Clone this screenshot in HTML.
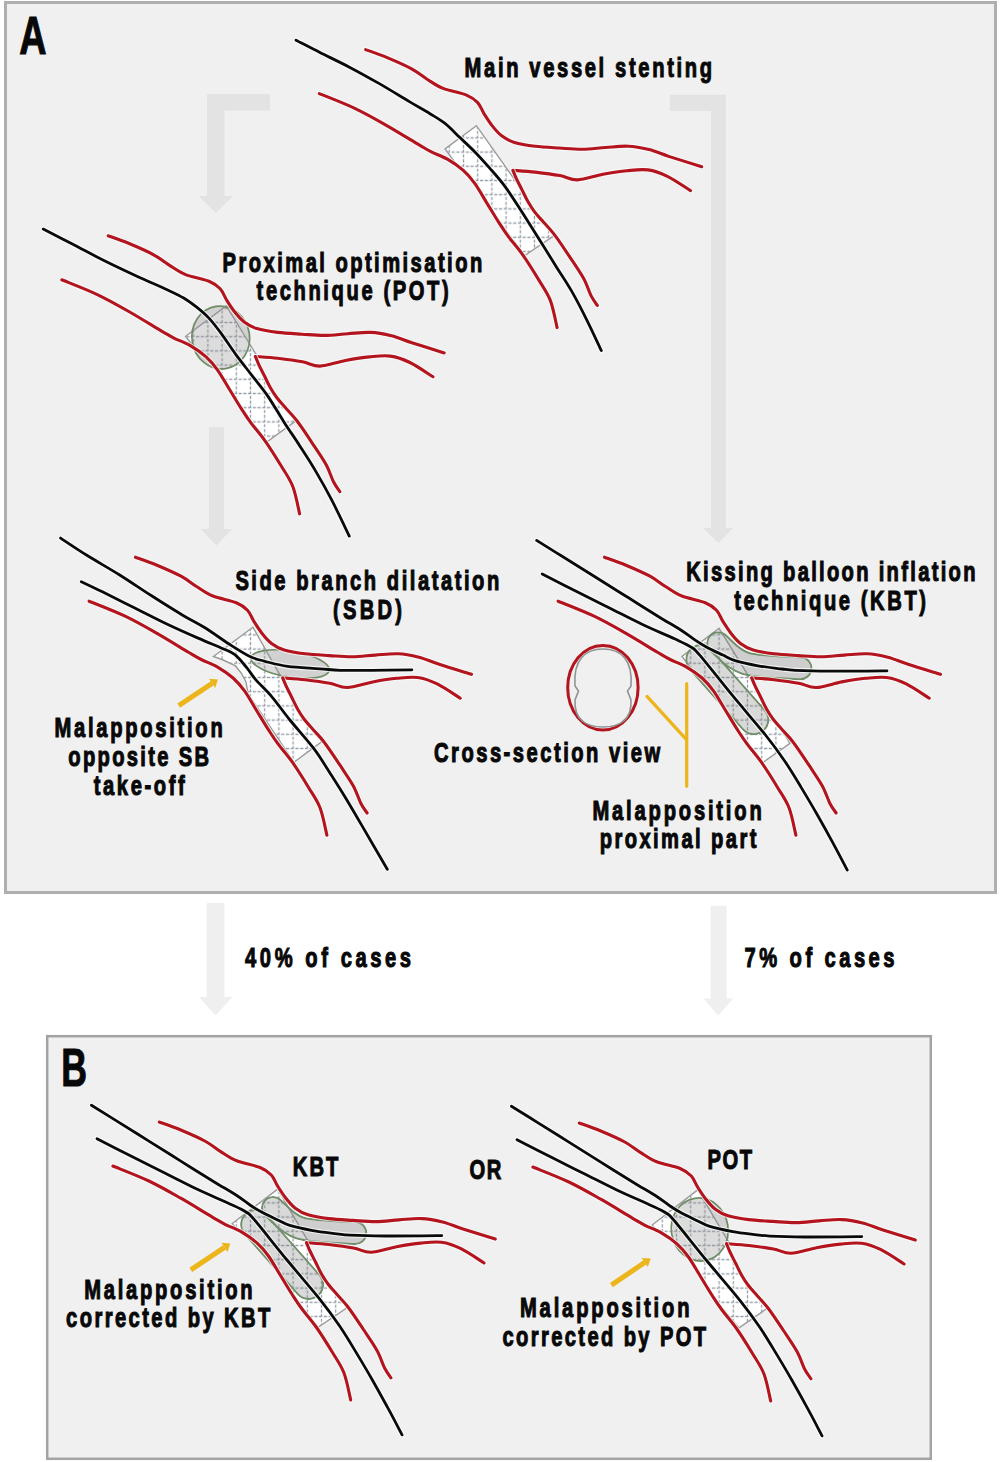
<!DOCTYPE html>
<html><head><meta charset="utf-8"><style>
html,body{margin:0;padding:0;background:#fff;}
svg{display:block;}
text{font-family:"Liberation Sans",sans-serif;font-weight:bold;fill:#080808;stroke:#080808;stroke-width:1.1px;}
.r{fill:none;stroke:#b3141d;stroke-width:3.1;stroke-linecap:round;stroke-linejoin:round;}
.k{fill:none;stroke:#0a0a0a;stroke-width:2.8;stroke-linecap:round;stroke-linejoin:round;}
.h{fill:none;stroke:rgba(252,255,255,0.75);stroke-width:5;stroke-linecap:round;stroke-linejoin:round;}
.so{fill:none;stroke:#9a9a9a;stroke-width:1.4;}
.bal{fill:rgba(140,140,140,0.30);stroke:#6f8c64;stroke-width:1.7;}
</style></head><body>
<svg width="1002" height="1462" viewBox="0 0 1002 1462">
<defs>
<mask id="bm0" maskUnits="userSpaceOnUse" x="0" y="0" width="1002" height="1462"><path d="M700.8 659.7 L753.8 719.7" fill="none" stroke="#fff" stroke-width="31.0" stroke-linecap="round" stroke-linejoin="round"/><path d="M700.8 659.7 L753.8 719.7" fill="none" stroke="#000" stroke-width="27.0" stroke-linecap="round" stroke-linejoin="round"/></mask>
<mask id="bm1" maskUnits="userSpaceOnUse" x="0" y="0" width="1002" height="1462"><path d="M718.2 643.2 C722.7 646.5 731.5 659.0 745.2 663.2 C758.9 667.4 791.3 667.4 800.5 668.2" fill="none" stroke="#fff" stroke-width="24.0" stroke-linecap="round" stroke-linejoin="round"/><path d="M718.2 643.2 C722.7 646.5 731.5 659.0 745.2 663.2 C758.9 667.4 791.3 667.4 800.5 668.2" fill="none" stroke="#000" stroke-width="20.0" stroke-linecap="round" stroke-linejoin="round"/></mask>
<mask id="bm2" maskUnits="userSpaceOnUse" x="0" y="0" width="1002" height="1462"><path d="M255.6 1224.5 L308.6 1284.5" fill="none" stroke="#fff" stroke-width="31.0" stroke-linecap="round" stroke-linejoin="round"/><path d="M255.6 1224.5 L308.6 1284.5" fill="none" stroke="#000" stroke-width="27.0" stroke-linecap="round" stroke-linejoin="round"/></mask>
<mask id="bm3" maskUnits="userSpaceOnUse" x="0" y="0" width="1002" height="1462"><path d="M273.0 1208.0 C277.5 1211.3 286.3 1223.8 300.0 1228.0 C313.7 1232.2 346.1 1232.2 355.3 1233.0" fill="none" stroke="#fff" stroke-width="24.0" stroke-linecap="round" stroke-linejoin="round"/><path d="M273.0 1208.0 C277.5 1211.3 286.3 1223.8 300.0 1228.0 C313.7 1232.2 346.1 1232.2 355.3 1233.0" fill="none" stroke="#000" stroke-width="20.0" stroke-linecap="round" stroke-linejoin="round"/></mask>
<clipPath id="vc0"><path d="M319.3 93.6 C325.3 96.1 344.0 103.2 355.3 108.6 C366.6 114.0 376.6 119.7 387.2 125.8 C397.8 131.8 411.7 140.5 419.1 144.9 C426.5 149.2 426.7 149.5 431.4 151.9 C436.1 154.3 442.1 156.1 447.4 159.2 C452.7 162.3 458.7 166.3 463.3 170.4 C467.9 174.5 471.0 178.1 474.9 183.6 C478.8 189.0 482.9 196.6 486.9 203.1 C490.9 209.6 495.3 217.0 498.9 222.6 C502.5 228.2 504.4 231.2 508.4 236.6 C512.4 242.0 517.8 247.8 522.9 255.1 C528.0 262.3 534.3 272.5 538.9 280.1 C543.5 287.7 547.4 292.7 550.4 300.6 C553.4 308.5 556.0 323.1 557.1 327.6 L597.3 305.4 C596.2 303.8 593.3 300.1 591.0 295.6 C588.7 291.0 586.9 284.4 583.4 278.1 C579.9 271.8 575.0 264.8 570.2 257.6 C565.4 250.3 558.9 240.5 554.4 234.6 C549.9 228.7 546.7 225.9 543.4 222.1 C540.1 218.3 537.0 215.0 534.4 211.6 C531.8 208.2 530.0 205.3 527.9 201.6 C525.8 197.9 523.8 193.4 521.9 189.6 C520.0 185.8 517.9 181.8 516.4 178.6 C514.9 175.4 513.5 171.7 512.9 170.3 L512.9 170.3 C516.6 170.6 527.4 171.2 535.2 172.1 C543.0 173.0 552.9 174.3 559.9 175.6 C566.9 176.9 570.2 180.1 577.4 179.9 C584.6 179.7 594.6 175.8 602.9 174.3 C611.1 172.8 619.4 171.4 626.9 170.7 C634.4 170.0 641.1 169.0 647.9 169.9 C654.6 170.8 660.3 172.8 667.4 176.3 C674.5 179.7 686.6 188.2 690.5 190.6 L701.7 166.7 C696.3 165.0 678.2 159.4 669.4 156.6 C660.6 153.7 655.9 151.3 649.0 149.6 C642.1 147.9 635.6 146.5 628.3 146.2 C621.0 145.8 613.0 147.0 605.4 147.5 C597.8 148.0 590.1 149.1 582.4 149.2 C574.7 149.3 567.3 148.5 559.4 148.0 C551.5 147.5 542.7 147.1 535.2 146.2 C527.7 145.3 520.0 144.1 514.4 142.4 C508.8 140.7 505.4 138.6 501.7 135.8 C498.0 133.0 495.0 129.3 492.1 125.6 C489.2 121.9 486.5 117.6 484.1 113.8 C481.7 110.0 480.6 105.7 477.7 102.6 C474.8 99.5 472.3 97.5 466.5 95.1 C460.7 92.7 449.7 91.0 443.1 88.4 C436.5 85.7 432.4 82.5 427.1 79.2 C421.8 75.9 417.9 72.2 411.2 68.6 C404.6 65.0 394.8 60.8 387.2 57.6 C379.6 54.4 369.3 50.9 365.7 49.6 Z"/></clipPath>
<clipPath id="vc1"><path d="M61.8 279.8 C67.8 282.3 86.5 289.4 97.8 294.8 C109.1 300.2 119.1 305.9 129.7 312.0 C140.3 318.1 154.2 326.7 161.6 331.1 C169.0 335.4 169.2 335.7 173.9 338.1 C178.6 340.5 184.6 342.3 189.9 345.4 C195.2 348.5 201.2 352.5 205.8 356.6 C210.4 360.7 213.5 364.3 217.4 369.8 C221.3 375.2 225.4 382.8 229.4 389.3 C233.4 395.8 237.8 403.2 241.4 408.8 C245.0 414.4 246.9 417.4 250.9 422.8 C254.9 428.2 260.3 434.0 265.4 441.3 C270.5 448.5 276.8 458.7 281.4 466.3 C286.0 473.9 289.9 478.9 292.9 486.8 C295.9 494.7 298.5 509.3 299.6 513.8 L339.8 491.6 C338.7 490.0 335.8 486.3 333.5 481.8 C331.2 477.2 329.4 470.6 325.9 464.3 C322.4 458.0 317.5 451.0 312.7 443.8 C307.9 436.5 301.4 426.7 296.9 420.8 C292.4 414.9 289.2 412.1 285.9 408.3 C282.6 404.5 279.5 401.2 276.9 397.8 C274.3 394.4 272.5 391.5 270.4 387.8 C268.3 384.1 266.3 379.6 264.4 375.8 C262.5 372.0 260.4 368.0 258.9 364.8 C257.4 361.6 256.0 357.9 255.4 356.5 L255.4 356.5 C259.1 356.8 269.9 357.4 277.7 358.3 C285.5 359.2 295.4 360.5 302.4 361.8 C309.4 363.1 312.7 366.3 319.9 366.1 C327.1 365.9 337.1 362.0 345.4 360.5 C353.6 359.0 361.9 357.6 369.4 356.9 C376.9 356.2 383.6 355.2 390.4 356.1 C397.1 357.0 402.8 359.1 409.9 362.5 C417.0 365.9 429.1 374.4 433.0 376.8 L444.2 352.9 C438.8 351.2 420.7 345.6 411.9 342.8 C403.1 339.9 398.4 337.5 391.5 335.8 C384.6 334.1 378.1 332.7 370.8 332.4 C363.5 332.0 355.5 333.2 347.9 333.7 C340.2 334.2 332.6 335.3 324.9 335.4 C317.2 335.5 309.8 334.7 301.9 334.2 C294.0 333.7 285.2 333.3 277.7 332.4 C270.2 331.5 262.5 330.3 256.9 328.6 C251.3 326.9 247.9 324.8 244.2 322.0 C240.5 319.2 237.5 315.5 234.6 311.8 C231.7 308.1 229.0 303.8 226.6 300.0 C224.2 296.2 223.1 291.9 220.2 288.8 C217.3 285.7 214.8 283.7 209.0 281.3 C203.2 278.9 192.2 277.2 185.6 274.6 C179.0 271.9 174.9 268.7 169.6 265.4 C164.3 262.1 160.4 258.4 153.7 254.8 C147.1 251.2 137.3 247.0 129.7 243.8 C122.1 240.6 111.8 237.1 108.2 235.8 Z"/></clipPath>
<clipPath id="vc2"><path d="M89.1 601.2 C95.1 603.7 113.8 610.8 125.1 616.2 C136.4 621.6 146.4 627.4 157.0 633.4 C167.6 639.5 181.5 648.1 188.9 652.5 C196.3 656.9 196.5 657.1 201.2 659.5 C205.9 661.9 211.9 663.7 217.2 666.8 C222.5 669.9 228.5 673.9 233.1 678.0 C237.7 682.1 240.8 685.8 244.7 691.2 C248.6 696.7 252.7 704.2 256.7 710.7 C260.7 717.2 265.1 724.6 268.7 730.2 C272.3 735.8 274.2 738.8 278.2 744.2 C282.2 749.6 287.6 755.5 292.7 762.7 C297.8 770.0 304.1 780.1 308.7 787.7 C313.3 795.3 317.2 800.3 320.2 808.2 C323.2 816.1 325.8 830.7 326.9 835.2 L367.1 813.0 C366.0 811.4 363.1 807.8 360.8 803.2 C358.5 798.7 356.7 792.0 353.2 785.7 C349.7 779.4 344.8 772.5 340.0 765.2 C335.2 758.0 328.7 748.1 324.2 742.2 C319.7 736.3 316.5 733.5 313.2 729.7 C309.9 725.9 306.8 722.6 304.2 719.2 C301.6 715.8 299.8 712.9 297.7 709.2 C295.6 705.5 293.6 701.0 291.7 697.2 C289.8 693.4 287.7 689.4 286.2 686.2 C284.7 683.0 283.3 679.3 282.7 677.9 L282.7 677.9 C286.4 678.2 297.2 678.8 305.0 679.7 C312.8 680.6 322.7 681.9 329.7 683.2 C336.7 684.5 340.0 687.7 347.2 687.5 C354.4 687.3 364.4 683.4 372.7 681.9 C380.9 680.4 389.2 679.0 396.7 678.3 C404.2 677.6 410.9 676.6 417.7 677.5 C424.4 678.4 430.1 680.5 437.2 683.9 C444.3 687.4 456.4 695.8 460.3 698.2 L471.5 674.3 C466.1 672.6 448.0 667.1 439.2 664.2 C430.4 661.4 425.7 658.9 418.8 657.2 C411.9 655.5 405.4 654.1 398.1 653.8 C390.8 653.4 382.8 654.6 375.2 655.1 C367.6 655.6 359.9 656.7 352.2 656.8 C344.5 656.9 337.1 656.1 329.2 655.6 C321.3 655.1 312.5 654.7 305.0 653.8 C297.5 652.9 289.8 651.7 284.2 650.0 C278.6 648.3 275.2 646.2 271.5 643.4 C267.8 640.6 264.8 636.9 261.9 633.2 C259.0 629.5 256.3 625.2 253.9 621.4 C251.5 617.6 250.4 613.3 247.5 610.2 C244.6 607.1 242.1 605.1 236.3 602.7 C230.5 600.3 219.5 598.6 212.9 596.0 C206.3 593.4 202.2 590.1 196.9 586.8 C191.6 583.5 187.7 579.8 181.0 576.2 C174.3 572.6 164.6 568.4 157.0 565.2 C149.4 562.0 139.1 558.5 135.5 557.2 Z"/></clipPath>
<clipPath id="vc3"><path d="M558.1 601.2 C564.1 603.7 582.8 610.8 594.1 616.2 C605.4 621.6 615.4 627.4 626.0 633.4 C636.6 639.5 650.5 648.1 657.9 652.5 C665.3 656.9 665.5 657.1 670.2 659.5 C674.9 661.9 680.9 663.7 686.2 666.8 C691.5 669.9 697.5 673.9 702.1 678.0 C706.7 682.1 709.8 685.8 713.7 691.2 C717.6 696.7 721.7 704.2 725.7 710.7 C729.7 717.2 734.1 724.6 737.7 730.2 C741.3 735.8 743.2 738.8 747.2 744.2 C751.2 749.6 756.6 755.5 761.7 762.7 C766.8 770.0 773.1 780.1 777.7 787.7 C782.3 795.3 786.2 800.3 789.2 808.2 C792.2 816.1 794.8 830.7 795.9 835.2 L836.1 813.0 C835.0 811.4 832.1 807.8 829.8 803.2 C827.5 798.7 825.7 792.0 822.2 785.7 C818.7 779.4 813.8 772.5 809.0 765.2 C804.2 758.0 797.7 748.1 793.2 742.2 C788.7 736.3 785.5 733.5 782.2 729.7 C778.9 725.9 775.8 722.6 773.2 719.2 C770.6 715.8 768.8 712.9 766.7 709.2 C764.6 705.5 762.6 701.0 760.7 697.2 C758.8 693.4 756.7 689.4 755.2 686.2 C753.7 683.0 752.3 679.3 751.7 677.9 L751.7 677.9 C755.4 678.2 766.2 678.8 774.0 679.7 C781.8 680.6 791.7 681.9 798.7 683.2 C805.7 684.5 809.0 687.7 816.2 687.5 C823.4 687.3 833.5 683.4 841.7 681.9 C850.0 680.4 858.2 679.0 865.7 678.3 C873.2 677.6 880.0 676.6 886.7 677.5 C893.5 678.4 899.1 680.5 906.2 683.9 C913.3 687.4 925.4 695.8 929.3 698.2 L940.5 674.3 C935.1 672.6 917.0 667.1 908.2 664.2 C899.4 661.4 894.6 658.9 887.8 657.2 C880.9 655.5 874.4 654.1 867.1 653.8 C859.8 653.4 851.9 654.6 844.2 655.1 C836.6 655.6 828.9 656.7 821.2 656.8 C813.5 656.9 806.1 656.1 798.2 655.6 C790.3 655.1 781.5 654.7 774.0 653.8 C766.5 652.9 758.8 651.7 753.2 650.0 C747.6 648.3 744.2 646.2 740.5 643.4 C736.8 640.6 733.8 636.9 730.9 633.2 C728.0 629.5 725.3 625.2 722.9 621.4 C720.5 617.6 719.4 613.3 716.5 610.2 C713.6 607.1 711.1 605.1 705.3 602.7 C699.5 600.3 688.5 598.6 681.9 596.0 C675.3 593.4 671.2 590.1 665.9 586.8 C660.6 583.5 656.6 579.8 650.0 576.2 C643.4 572.6 633.6 568.4 626.0 565.2 C618.4 562.0 608.1 558.5 604.5 557.2 Z"/></clipPath>
<clipPath id="vc4"><path d="M112.9 1166.0 C118.9 1168.5 137.6 1175.6 148.9 1181.0 C160.2 1186.4 170.2 1192.2 180.8 1198.2 C191.4 1204.2 205.3 1213.0 212.7 1217.3 C220.1 1221.6 220.3 1221.9 225.0 1224.3 C229.7 1226.7 235.7 1228.5 241.0 1231.6 C246.3 1234.7 252.3 1238.7 256.9 1242.8 C261.5 1246.9 264.6 1250.5 268.5 1256.0 C272.4 1261.5 276.5 1269.0 280.5 1275.5 C284.5 1282.0 288.9 1289.4 292.5 1295.0 C296.1 1300.6 298.0 1303.6 302.0 1309.0 C306.0 1314.4 311.4 1320.2 316.5 1327.5 C321.6 1334.8 327.9 1344.9 332.5 1352.5 C337.1 1360.1 341.0 1365.1 344.0 1373.0 C347.0 1380.9 349.6 1395.5 350.7 1400.0 L390.9 1377.8 C389.8 1376.2 386.9 1372.5 384.6 1368.0 C382.3 1363.5 380.5 1356.8 377.0 1350.5 C373.5 1344.2 368.6 1337.2 363.8 1330.0 C359.0 1322.8 352.5 1312.9 348.0 1307.0 C343.5 1301.1 340.3 1298.3 337.0 1294.5 C333.7 1290.7 330.6 1287.4 328.0 1284.0 C325.4 1280.6 323.6 1277.7 321.5 1274.0 C319.4 1270.3 317.4 1265.8 315.5 1262.0 C313.6 1258.2 311.5 1254.2 310.0 1251.0 C308.5 1247.8 307.1 1244.1 306.5 1242.7 L306.5 1242.7 C310.2 1243.0 321.0 1243.6 328.8 1244.5 C336.6 1245.4 346.5 1246.7 353.5 1248.0 C360.5 1249.3 363.8 1252.5 371.0 1252.3 C378.2 1252.1 388.2 1248.2 396.5 1246.7 C404.8 1245.2 413.0 1243.8 420.5 1243.1 C428.0 1242.4 434.8 1241.4 441.5 1242.3 C448.2 1243.2 453.9 1245.2 461.0 1248.7 C468.1 1252.2 480.2 1260.6 484.1 1263.0 L495.3 1239.1 C489.9 1237.4 471.8 1231.8 463.0 1229.0 C454.2 1226.2 449.5 1223.7 442.6 1222.0 C435.8 1220.3 429.2 1218.9 421.9 1218.6 C414.6 1218.2 406.6 1219.4 399.0 1219.9 C391.4 1220.4 383.7 1221.5 376.0 1221.6 C368.3 1221.7 360.9 1220.9 353.0 1220.4 C345.1 1219.9 336.3 1219.5 328.8 1218.6 C321.3 1217.7 313.6 1216.5 308.0 1214.8 C302.4 1213.1 299.0 1211.0 295.3 1208.2 C291.6 1205.4 288.6 1201.7 285.7 1198.0 C282.8 1194.3 280.1 1190.0 277.7 1186.2 C275.3 1182.4 274.2 1178.1 271.3 1175.0 C268.4 1171.9 265.9 1169.9 260.1 1167.5 C254.3 1165.1 243.3 1163.5 236.7 1160.8 C230.1 1158.1 226.0 1154.9 220.7 1151.6 C215.4 1148.3 211.5 1144.6 204.8 1141.0 C198.2 1137.4 188.4 1133.2 180.8 1130.0 C173.2 1126.8 162.9 1123.3 159.3 1122.0 Z"/></clipPath>
<clipPath id="vc5"><path d="M532.9 1167.0 C538.9 1169.5 557.6 1176.6 568.9 1182.0 C580.2 1187.4 590.2 1193.2 600.8 1199.2 C611.4 1205.2 625.3 1214.0 632.7 1218.3 C640.1 1222.6 640.3 1222.9 645.0 1225.3 C649.7 1227.7 655.7 1229.5 661.0 1232.6 C666.3 1235.7 672.3 1239.7 676.9 1243.8 C681.5 1247.9 684.6 1251.5 688.5 1257.0 C692.4 1262.5 696.5 1270.0 700.5 1276.5 C704.5 1283.0 708.9 1290.4 712.5 1296.0 C716.1 1301.6 718.0 1304.6 722.0 1310.0 C726.0 1315.4 731.4 1321.2 736.5 1328.5 C741.6 1335.8 747.9 1345.9 752.5 1353.5 C757.1 1361.1 761.0 1366.1 764.0 1374.0 C767.0 1381.9 769.6 1396.5 770.7 1401.0 L810.9 1378.8 C809.9 1377.2 806.9 1373.5 804.6 1369.0 C802.3 1364.5 800.5 1357.8 797.0 1351.5 C793.5 1345.2 788.6 1338.2 783.8 1331.0 C779.0 1323.8 772.5 1313.9 768.0 1308.0 C763.5 1302.1 760.3 1299.3 757.0 1295.5 C753.7 1291.7 750.6 1288.4 748.0 1285.0 C745.4 1281.6 743.6 1278.7 741.5 1275.0 C739.4 1271.3 737.4 1266.8 735.5 1263.0 C733.6 1259.2 731.5 1255.2 730.0 1252.0 C728.5 1248.8 727.1 1245.1 726.5 1243.7 L726.5 1243.7 C730.2 1244.0 741.0 1244.6 748.8 1245.5 C756.6 1246.4 766.5 1247.7 773.5 1249.0 C780.5 1250.3 783.8 1253.5 791.0 1253.3 C798.2 1253.1 808.2 1249.2 816.5 1247.7 C824.8 1246.2 833.0 1244.8 840.5 1244.1 C848.0 1243.4 854.8 1242.4 861.5 1243.3 C868.2 1244.2 873.9 1246.2 881.0 1249.7 C888.1 1253.2 900.2 1261.6 904.1 1264.0 L915.3 1240.1 C909.9 1238.4 891.8 1232.8 883.0 1230.0 C874.2 1227.2 869.5 1224.7 862.6 1223.0 C855.8 1221.3 849.2 1219.9 841.9 1219.6 C834.6 1219.2 826.6 1220.4 819.0 1220.9 C811.4 1221.4 803.7 1222.5 796.0 1222.6 C788.3 1222.7 780.9 1221.9 773.0 1221.4 C765.1 1220.9 756.3 1220.5 748.8 1219.6 C741.3 1218.7 733.6 1217.5 728.0 1215.8 C722.4 1214.1 719.0 1212.0 715.3 1209.2 C711.6 1206.4 708.6 1202.7 705.7 1199.0 C702.8 1195.3 700.1 1191.0 697.7 1187.2 C695.3 1183.4 694.2 1179.1 691.3 1176.0 C688.4 1172.9 685.9 1170.9 680.1 1168.5 C674.3 1166.1 663.3 1164.5 656.7 1161.8 C650.1 1159.1 646.0 1155.9 640.7 1152.6 C635.4 1149.3 631.4 1145.6 624.8 1142.0 C618.1 1138.4 608.4 1134.2 600.8 1131.0 C593.2 1127.8 582.9 1124.3 579.3 1123.0 Z"/></clipPath>
<pattern id="mesh" patternUnits="userSpaceOnUse" width="14.2" height="14.2" x="2" y="3">
<path d="M0 7.1 H14.2 M7.1 0 V14.2" stroke="#96a0aa" stroke-width="1.3" stroke-dasharray="3.2 1.5" fill="none"/>
</pattern>
</defs>
<rect x="0" y="0" width="1002" height="1462" fill="#fff"/>
<rect x="5.5" y="2.5" width="990" height="890" fill="#f0f0f0" stroke="#aeb0b0" stroke-width="3"/>
<rect x="47.2" y="1036.2" width="883.6" height="422.6" fill="#f0f0f0" stroke="#a2a4a4" stroke-width="2.5"/>
<path d="M270 94 L207 94 L207 196 L198.5 196 L216 213 L233 196 L224.5 196 L224.5 110.5 L270 110.5 Z" fill="#e3e3e3"/>
<path d="M209 427 L224 427 L224 529 L232 529 L216.4 545.4 L200.5 529 L209 529 Z" fill="#e3e3e3"/>
<path d="M670 94.8 L725.8 94.8 L725.8 528 L733 528 L718.4 543 L703 528 L711 528 L711 111 L670 111 Z" fill="#e3e3e3"/>
<path d="M206.7 903 L224.4 903 L224.4 997 L232.4 997 L215.6 1015.4 L199 997 L206.7 997 Z" fill="#efefef"/>
<path d="M710.7 905.7 L726.7 905.7 L726.7 998.6 L733.3 998.6 L718.2 1015.4 L703.6 998.6 L710.7 998.6 Z" fill="#efefef"/>
<g clip-path="url(#vc0)"><path d="M476.4 125.7 L445.0 148.9 L524.7 255.5 L554.2 235.5 Z" fill="#fff"/><path d="M476.4 125.7 L445.0 148.9 L524.7 255.5 L554.2 235.5 Z" fill="url(#mesh)"/><path d="M476.4 125.7 L445.0 148.9 L524.7 255.5 L554.2 235.5 Z" class="so"/></g>
<path d="M296.0 40.2 C300.0 42.2 310.9 48.0 319.9 52.5 C328.9 57.0 339.9 62.2 349.9 67.4 C359.9 72.6 369.8 78.2 379.8 83.9 C389.8 89.7 401.4 96.9 409.8 101.9 C418.2 106.9 424.1 110.1 430.0 113.7 C435.9 117.3 440.0 119.4 445.0 123.4 C450.0 127.4 454.9 132.8 459.9 137.6 C464.9 142.3 469.9 146.8 474.9 151.9 C479.9 157.0 484.9 162.6 489.9 168.3 C494.9 174.0 499.8 179.4 504.9 186.3 C510.0 193.2 514.9 201.0 520.7 210.0 C526.5 219.0 533.9 231.0 539.8 240.3 C545.6 249.6 550.5 257.4 555.8 265.9 C561.1 274.4 566.5 282.1 571.8 291.4 C577.1 300.7 582.8 311.9 587.7 321.8 C592.6 331.7 599.0 345.7 601.3 350.5" class="h"/><path d="M296.0 40.2 C300.0 42.2 310.9 48.0 319.9 52.5 C328.9 57.0 339.9 62.2 349.9 67.4 C359.9 72.6 369.8 78.2 379.8 83.9 C389.8 89.7 401.4 96.9 409.8 101.9 C418.2 106.9 424.1 110.1 430.0 113.7 C435.9 117.3 440.0 119.4 445.0 123.4 C450.0 127.4 454.9 132.8 459.9 137.6 C464.9 142.3 469.9 146.8 474.9 151.9 C479.9 157.0 484.9 162.6 489.9 168.3 C494.9 174.0 499.8 179.4 504.9 186.3 C510.0 193.2 514.9 201.0 520.7 210.0 C526.5 219.0 533.9 231.0 539.8 240.3 C545.6 249.6 550.5 257.4 555.8 265.9 C561.1 274.4 566.5 282.1 571.8 291.4 C577.1 300.7 582.8 311.9 587.7 321.8 C592.6 331.7 599.0 345.7 601.3 350.5" class="k"/>
<path d="M365.7 49.6 C369.3 50.9 379.6 54.4 387.2 57.6 C394.8 60.8 404.6 65.0 411.2 68.6 C417.9 72.2 421.8 75.9 427.1 79.2 C432.4 82.5 436.5 85.7 443.1 88.4 C449.7 91.0 460.7 92.7 466.5 95.1 C472.3 97.5 474.8 99.5 477.7 102.6 C480.6 105.7 481.7 110.0 484.1 113.8 C486.5 117.6 489.2 121.9 492.1 125.6 C495.0 129.3 498.0 133.0 501.7 135.8 C505.4 138.6 508.8 140.7 514.4 142.4 C520.0 144.1 527.7 145.3 535.2 146.2 C542.7 147.1 551.5 147.5 559.4 148.0 C567.3 148.5 574.7 149.3 582.4 149.2 C590.1 149.1 597.8 148.0 605.4 147.5 C613.0 147.0 621.0 145.8 628.3 146.2 C635.6 146.5 642.1 147.9 649.0 149.6 C655.9 151.3 660.6 153.7 669.4 156.6 C678.2 159.4 696.3 165.0 701.7 166.7" class="h"/><path d="M365.7 49.6 C369.3 50.9 379.6 54.4 387.2 57.6 C394.8 60.8 404.6 65.0 411.2 68.6 C417.9 72.2 421.8 75.9 427.1 79.2 C432.4 82.5 436.5 85.7 443.1 88.4 C449.7 91.0 460.7 92.7 466.5 95.1 C472.3 97.5 474.8 99.5 477.7 102.6 C480.6 105.7 481.7 110.0 484.1 113.8 C486.5 117.6 489.2 121.9 492.1 125.6 C495.0 129.3 498.0 133.0 501.7 135.8 C505.4 138.6 508.8 140.7 514.4 142.4 C520.0 144.1 527.7 145.3 535.2 146.2 C542.7 147.1 551.5 147.5 559.4 148.0 C567.3 148.5 574.7 149.3 582.4 149.2 C590.1 149.1 597.8 148.0 605.4 147.5 C613.0 147.0 621.0 145.8 628.3 146.2 C635.6 146.5 642.1 147.9 649.0 149.6 C655.9 151.3 660.6 153.7 669.4 156.6 C678.2 159.4 696.3 165.0 701.7 166.7" class="r"/>
<path d="M319.3 93.6 C325.3 96.1 344.0 103.2 355.3 108.6 C366.6 114.0 376.6 119.7 387.2 125.8 C397.8 131.8 411.7 140.5 419.1 144.9 C426.5 149.2 426.7 149.5 431.4 151.9 C436.1 154.3 442.1 156.1 447.4 159.2 C452.7 162.3 458.7 166.3 463.3 170.4 C467.9 174.5 471.0 178.1 474.9 183.6 C478.8 189.0 482.9 196.6 486.9 203.1 C490.9 209.6 495.3 217.0 498.9 222.6 C502.5 228.2 504.4 231.2 508.4 236.6 C512.4 242.0 517.8 247.8 522.9 255.1 C528.0 262.3 534.3 272.5 538.9 280.1 C543.5 287.7 547.4 292.7 550.4 300.6 C553.4 308.5 556.0 323.1 557.1 327.6" class="h"/><path d="M319.3 93.6 C325.3 96.1 344.0 103.2 355.3 108.6 C366.6 114.0 376.6 119.7 387.2 125.8 C397.8 131.8 411.7 140.5 419.1 144.9 C426.5 149.2 426.7 149.5 431.4 151.9 C436.1 154.3 442.1 156.1 447.4 159.2 C452.7 162.3 458.7 166.3 463.3 170.4 C467.9 174.5 471.0 178.1 474.9 183.6 C478.8 189.0 482.9 196.6 486.9 203.1 C490.9 209.6 495.3 217.0 498.9 222.6 C502.5 228.2 504.4 231.2 508.4 236.6 C512.4 242.0 517.8 247.8 522.9 255.1 C528.0 262.3 534.3 272.5 538.9 280.1 C543.5 287.7 547.4 292.7 550.4 300.6 C553.4 308.5 556.0 323.1 557.1 327.6" class="r"/>
<path d="M690.5 190.6 C686.6 188.2 674.5 179.7 667.4 176.3 C660.3 172.8 654.6 170.8 647.9 169.9 C641.1 169.0 634.4 170.0 626.9 170.7 C619.4 171.4 611.1 172.8 602.9 174.3 C594.6 175.8 584.6 179.7 577.4 179.9 C570.2 180.1 566.9 176.9 559.9 175.6 C552.9 174.3 543.0 173.0 535.2 172.1 C527.4 171.2 516.6 170.6 512.9 170.3" class="h"/><path d="M690.5 190.6 C686.6 188.2 674.5 179.7 667.4 176.3 C660.3 172.8 654.6 170.8 647.9 169.9 C641.1 169.0 634.4 170.0 626.9 170.7 C619.4 171.4 611.1 172.8 602.9 174.3 C594.6 175.8 584.6 179.7 577.4 179.9 C570.2 180.1 566.9 176.9 559.9 175.6 C552.9 174.3 543.0 173.0 535.2 172.1 C527.4 171.2 516.6 170.6 512.9 170.3" class="r"/>
<path d="M512.9 170.3 C513.5 171.7 514.9 175.4 516.4 178.6 C517.9 181.8 520.0 185.8 521.9 189.6 C523.8 193.4 525.8 197.9 527.9 201.6 C530.0 205.3 531.8 208.2 534.4 211.6 C537.0 215.0 540.1 218.3 543.4 222.1 C546.7 225.9 549.9 228.7 554.4 234.6 C558.9 240.5 565.4 250.3 570.2 257.6 C575.0 264.8 579.9 271.8 583.4 278.1 C586.9 284.4 588.7 291.0 591.0 295.6 C593.3 300.1 596.2 303.8 597.3 305.4" class="h"/><path d="M512.9 170.3 C513.5 171.7 514.9 175.4 516.4 178.6 C517.9 181.8 520.0 185.8 521.9 189.6 C523.8 193.4 525.8 197.9 527.9 201.6 C530.0 205.3 531.8 208.2 534.4 211.6 C537.0 215.0 540.1 218.3 543.4 222.1 C546.7 225.9 549.9 228.7 554.4 234.6 C558.9 240.5 565.4 250.3 570.2 257.6 C575.0 264.8 579.9 271.8 583.4 278.1 C586.9 284.4 588.7 291.0 591.0 295.6 C593.3 300.1 596.2 303.8 597.3 305.4" class="r"/>
<g clip-path="url(#vc1)"><path d="M226.3 305.9 L185.6 336.3 L267.1 441.9 L296.6 420.3 Z" fill="#fff"/><path d="M226.3 305.9 L185.6 336.3 L267.1 441.9 L296.6 420.3 Z" fill="url(#mesh)"/><path d="M226.3 305.9 L185.6 336.3 L267.1 441.9 L296.6 420.3 Z" class="so"/></g>
<ellipse cx="220.8" cy="337.5" rx="28.8" ry="31.5" transform="rotate(-9.0 220.8 337.5)" class="bal"/>
<path d="M43.2 229.1 C48.0 231.5 61.8 238.5 71.9 243.7 C82.0 248.9 93.2 255.2 103.9 260.5 C114.6 265.8 125.2 270.8 135.8 275.7 C146.4 280.6 159.7 286.3 167.7 290.0 C175.7 293.7 179.0 295.2 183.7 298.0 C188.4 300.8 191.8 303.4 196.0 306.7 C200.2 310.0 204.4 313.4 208.7 317.9 C212.9 322.4 217.0 327.8 221.5 333.9 C226.0 340.0 230.8 347.7 235.9 354.6 C241.0 361.5 246.6 368.5 251.9 375.4 C257.2 382.3 262.5 388.4 267.8 396.1 C273.1 403.9 278.6 413.6 283.9 421.9 C289.2 430.2 294.5 437.6 299.8 445.9 C305.1 454.1 310.5 462.3 315.8 471.4 C321.1 480.4 326.2 489.4 331.8 500.2 C337.4 511.0 346.4 530.1 349.3 536.1" class="h"/><path d="M43.2 229.1 C48.0 231.5 61.8 238.5 71.9 243.7 C82.0 248.9 93.2 255.2 103.9 260.5 C114.6 265.8 125.2 270.8 135.8 275.7 C146.4 280.6 159.7 286.3 167.7 290.0 C175.7 293.7 179.0 295.2 183.7 298.0 C188.4 300.8 191.8 303.4 196.0 306.7 C200.2 310.0 204.4 313.4 208.7 317.9 C212.9 322.4 217.0 327.8 221.5 333.9 C226.0 340.0 230.8 347.7 235.9 354.6 C241.0 361.5 246.6 368.5 251.9 375.4 C257.2 382.3 262.5 388.4 267.8 396.1 C273.1 403.9 278.6 413.6 283.9 421.9 C289.2 430.2 294.5 437.6 299.8 445.9 C305.1 454.1 310.5 462.3 315.8 471.4 C321.1 480.4 326.2 489.4 331.8 500.2 C337.4 511.0 346.4 530.1 349.3 536.1" class="k"/>
<path d="M108.2 235.8 C111.8 237.1 122.1 240.6 129.7 243.8 C137.3 247.0 147.1 251.2 153.7 254.8 C160.4 258.4 164.3 262.1 169.6 265.4 C174.9 268.7 179.0 271.9 185.6 274.6 C192.2 277.2 203.2 278.9 209.0 281.3 C214.8 283.7 217.3 285.7 220.2 288.8 C223.1 291.9 224.2 296.2 226.6 300.0 C229.0 303.8 231.7 308.1 234.6 311.8 C237.5 315.5 240.5 319.2 244.2 322.0 C247.9 324.8 251.3 326.9 256.9 328.6 C262.5 330.3 270.2 331.5 277.7 332.4 C285.2 333.3 294.0 333.7 301.9 334.2 C309.8 334.7 317.2 335.5 324.9 335.4 C332.6 335.3 340.2 334.2 347.9 333.7 C355.5 333.2 363.5 332.0 370.8 332.4 C378.1 332.7 384.6 334.1 391.5 335.8 C398.4 337.5 403.1 339.9 411.9 342.8 C420.7 345.6 438.8 351.2 444.2 352.9" class="h"/><path d="M108.2 235.8 C111.8 237.1 122.1 240.6 129.7 243.8 C137.3 247.0 147.1 251.2 153.7 254.8 C160.4 258.4 164.3 262.1 169.6 265.4 C174.9 268.7 179.0 271.9 185.6 274.6 C192.2 277.2 203.2 278.9 209.0 281.3 C214.8 283.7 217.3 285.7 220.2 288.8 C223.1 291.9 224.2 296.2 226.6 300.0 C229.0 303.8 231.7 308.1 234.6 311.8 C237.5 315.5 240.5 319.2 244.2 322.0 C247.9 324.8 251.3 326.9 256.9 328.6 C262.5 330.3 270.2 331.5 277.7 332.4 C285.2 333.3 294.0 333.7 301.9 334.2 C309.8 334.7 317.2 335.5 324.9 335.4 C332.6 335.3 340.2 334.2 347.9 333.7 C355.5 333.2 363.5 332.0 370.8 332.4 C378.1 332.7 384.6 334.1 391.5 335.8 C398.4 337.5 403.1 339.9 411.9 342.8 C420.7 345.6 438.8 351.2 444.2 352.9" class="r"/>
<path d="M61.8 279.8 C67.8 282.3 86.5 289.4 97.8 294.8 C109.1 300.2 119.1 305.9 129.7 312.0 C140.3 318.1 154.2 326.7 161.6 331.1 C169.0 335.4 169.2 335.7 173.9 338.1 C178.6 340.5 184.6 342.3 189.9 345.4 C195.2 348.5 201.2 352.5 205.8 356.6 C210.4 360.7 213.5 364.3 217.4 369.8 C221.3 375.2 225.4 382.8 229.4 389.3 C233.4 395.8 237.8 403.2 241.4 408.8 C245.0 414.4 246.9 417.4 250.9 422.8 C254.9 428.2 260.3 434.0 265.4 441.3 C270.5 448.5 276.8 458.7 281.4 466.3 C286.0 473.9 289.9 478.9 292.9 486.8 C295.9 494.7 298.5 509.3 299.6 513.8" class="h"/><path d="M61.8 279.8 C67.8 282.3 86.5 289.4 97.8 294.8 C109.1 300.2 119.1 305.9 129.7 312.0 C140.3 318.1 154.2 326.7 161.6 331.1 C169.0 335.4 169.2 335.7 173.9 338.1 C178.6 340.5 184.6 342.3 189.9 345.4 C195.2 348.5 201.2 352.5 205.8 356.6 C210.4 360.7 213.5 364.3 217.4 369.8 C221.3 375.2 225.4 382.8 229.4 389.3 C233.4 395.8 237.8 403.2 241.4 408.8 C245.0 414.4 246.9 417.4 250.9 422.8 C254.9 428.2 260.3 434.0 265.4 441.3 C270.5 448.5 276.8 458.7 281.4 466.3 C286.0 473.9 289.9 478.9 292.9 486.8 C295.9 494.7 298.5 509.3 299.6 513.8" class="r"/>
<path d="M433.0 376.8 C429.1 374.4 417.0 365.9 409.9 362.5 C402.8 359.1 397.1 357.0 390.4 356.1 C383.6 355.2 376.9 356.2 369.4 356.9 C361.9 357.6 353.6 359.0 345.4 360.5 C337.1 362.0 327.1 365.9 319.9 366.1 C312.7 366.3 309.4 363.1 302.4 361.8 C295.4 360.5 285.5 359.2 277.7 358.3 C269.9 357.4 259.1 356.8 255.4 356.5" class="h"/><path d="M433.0 376.8 C429.1 374.4 417.0 365.9 409.9 362.5 C402.8 359.1 397.1 357.0 390.4 356.1 C383.6 355.2 376.9 356.2 369.4 356.9 C361.9 357.6 353.6 359.0 345.4 360.5 C337.1 362.0 327.1 365.9 319.9 366.1 C312.7 366.3 309.4 363.1 302.4 361.8 C295.4 360.5 285.5 359.2 277.7 358.3 C269.9 357.4 259.1 356.8 255.4 356.5" class="r"/>
<path d="M255.4 356.5 C256.0 357.9 257.4 361.6 258.9 364.8 C260.4 368.0 262.5 372.0 264.4 375.8 C266.3 379.6 268.3 384.1 270.4 387.8 C272.5 391.5 274.3 394.4 276.9 397.8 C279.5 401.2 282.6 404.5 285.9 408.3 C289.2 412.1 292.4 414.9 296.9 420.8 C301.4 426.7 307.9 436.5 312.7 443.8 C317.5 451.0 322.4 458.0 325.9 464.3 C329.4 470.6 331.2 477.2 333.5 481.8 C335.8 486.3 338.7 490.0 339.8 491.6" class="h"/><path d="M255.4 356.5 C256.0 357.9 257.4 361.6 258.9 364.8 C260.4 368.0 262.5 372.0 264.4 375.8 C266.3 379.6 268.3 384.1 270.4 387.8 C272.5 391.5 274.3 394.4 276.9 397.8 C279.5 401.2 282.6 404.5 285.9 408.3 C289.2 412.1 292.4 414.9 296.9 420.8 C301.4 426.7 307.9 436.5 312.7 443.8 C317.5 451.0 322.4 458.0 325.9 464.3 C329.4 470.6 331.2 477.2 333.5 481.8 C335.8 486.3 338.7 490.0 339.8 491.6" class="r"/>
<g clip-path="url(#vc2)"><path d="M252.9 627.2 L213.5 656.5 L222.0 659.5 L235.0 665.5 L241.0 672.7 L246.0 682.0 L248.0 693.6 L293.9 762.3 L321.9 741.6 L281.4 677.6 Z" fill="#fff"/><path d="M252.9 627.2 L213.5 656.5 L222.0 659.5 L235.0 665.5 L241.0 672.7 L246.0 682.0 L248.0 693.6 L293.9 762.3 L321.9 741.6 L281.4 677.6 Z" fill="url(#mesh)"/><path d="M252.9 627.2 L213.5 656.5 L222.0 659.5 L235.0 665.5 L241.0 672.7 L246.0 682.0 L248.0 693.6 L293.9 762.3 L321.9 741.6 L281.4 677.6 Z" class="so"/></g>
<ellipse cx="290.2" cy="664.1" rx="39.6" ry="13.0" transform="rotate(9.2 290.2 664.1)" class="bal"/>
<path d="M60.6 538.1 C65.0 541.0 77.2 549.2 86.9 555.3 C96.6 561.4 108.2 567.8 118.9 574.5 C129.6 581.2 140.2 588.5 150.8 595.3 C161.4 602.1 173.7 609.8 182.7 615.2 C191.7 620.6 197.3 623.0 205.0 627.8 C212.7 632.6 221.5 639.2 229.0 644.0 C236.5 648.8 243.9 653.6 249.9 656.5 C255.9 659.4 258.6 659.6 264.9 661.3 C271.2 662.9 278.6 665.1 287.8 666.4 C297.0 667.6 311.1 668.1 319.8 668.8 C328.5 669.4 331.3 670.0 340.0 670.3 C348.7 670.5 359.9 670.4 371.9 670.3 C383.9 670.2 405.2 669.9 411.9 669.8" class="h"/><path d="M60.6 538.1 C65.0 541.0 77.2 549.2 86.9 555.3 C96.6 561.4 108.2 567.8 118.9 574.5 C129.6 581.2 140.2 588.5 150.8 595.3 C161.4 602.1 173.7 609.8 182.7 615.2 C191.7 620.6 197.3 623.0 205.0 627.8 C212.7 632.6 221.5 639.2 229.0 644.0 C236.5 648.8 243.9 653.6 249.9 656.5 C255.9 659.4 258.6 659.6 264.9 661.3 C271.2 662.9 278.6 665.1 287.8 666.4 C297.0 667.6 311.1 668.1 319.8 668.8 C328.5 669.4 331.3 670.0 340.0 670.3 C348.7 670.5 359.9 670.4 371.9 670.3 C383.9 670.2 405.2 669.9 411.9 669.8" class="k"/>
<path d="M81.3 581.7 C84.9 583.4 94.0 587.7 102.9 592.1 C111.8 596.5 124.2 602.7 134.8 608.0 C145.5 613.3 156.2 618.9 166.8 624.0 C177.5 629.1 189.3 634.3 198.7 638.4 C208.1 642.5 217.0 646.0 223.0 648.7 C229.0 651.4 230.9 651.5 234.9 654.7 C238.9 657.9 243.4 663.7 246.9 667.9 C250.4 672.1 251.7 675.1 255.9 679.9 C260.1 684.7 266.2 690.1 271.9 696.8 C277.6 703.5 282.9 711.4 289.9 720.0 C296.9 728.6 307.2 739.9 313.9 748.7 C320.5 757.5 324.5 764.5 329.8 772.7 C335.1 781.0 340.5 789.4 345.8 798.2 C351.1 807.0 354.9 813.5 361.8 825.4 C368.7 837.2 383.1 862.0 387.3 869.3" class="h"/><path d="M81.3 581.7 C84.9 583.4 94.0 587.7 102.9 592.1 C111.8 596.5 124.2 602.7 134.8 608.0 C145.5 613.3 156.2 618.9 166.8 624.0 C177.5 629.1 189.3 634.3 198.7 638.4 C208.1 642.5 217.0 646.0 223.0 648.7 C229.0 651.4 230.9 651.5 234.9 654.7 C238.9 657.9 243.4 663.7 246.9 667.9 C250.4 672.1 251.7 675.1 255.9 679.9 C260.1 684.7 266.2 690.1 271.9 696.8 C277.6 703.5 282.9 711.4 289.9 720.0 C296.9 728.6 307.2 739.9 313.9 748.7 C320.5 757.5 324.5 764.5 329.8 772.7 C335.1 781.0 340.5 789.4 345.8 798.2 C351.1 807.0 354.9 813.5 361.8 825.4 C368.7 837.2 383.1 862.0 387.3 869.3" class="k"/>
<path d="M135.5 557.2 C139.1 558.5 149.4 562.0 157.0 565.2 C164.6 568.4 174.3 572.6 181.0 576.2 C187.7 579.8 191.6 583.5 196.9 586.8 C202.2 590.1 206.3 593.4 212.9 596.0 C219.5 598.6 230.5 600.3 236.3 602.7 C242.1 605.1 244.6 607.1 247.5 610.2 C250.4 613.3 251.5 617.6 253.9 621.4 C256.3 625.2 259.0 629.5 261.9 633.2 C264.8 636.9 267.8 640.6 271.5 643.4 C275.2 646.2 278.6 648.3 284.2 650.0 C289.8 651.7 297.5 652.9 305.0 653.8 C312.5 654.7 321.3 655.1 329.2 655.6 C337.1 656.1 344.5 656.9 352.2 656.8 C359.9 656.7 367.6 655.6 375.2 655.1 C382.8 654.6 390.8 653.4 398.1 653.8 C405.4 654.1 411.9 655.5 418.8 657.2 C425.7 658.9 430.4 661.4 439.2 664.2 C448.0 667.1 466.1 672.6 471.5 674.3" class="h"/><path d="M135.5 557.2 C139.1 558.5 149.4 562.0 157.0 565.2 C164.6 568.4 174.3 572.6 181.0 576.2 C187.7 579.8 191.6 583.5 196.9 586.8 C202.2 590.1 206.3 593.4 212.9 596.0 C219.5 598.6 230.5 600.3 236.3 602.7 C242.1 605.1 244.6 607.1 247.5 610.2 C250.4 613.3 251.5 617.6 253.9 621.4 C256.3 625.2 259.0 629.5 261.9 633.2 C264.8 636.9 267.8 640.6 271.5 643.4 C275.2 646.2 278.6 648.3 284.2 650.0 C289.8 651.7 297.5 652.9 305.0 653.8 C312.5 654.7 321.3 655.1 329.2 655.6 C337.1 656.1 344.5 656.9 352.2 656.8 C359.9 656.7 367.6 655.6 375.2 655.1 C382.8 654.6 390.8 653.4 398.1 653.8 C405.4 654.1 411.9 655.5 418.8 657.2 C425.7 658.9 430.4 661.4 439.2 664.2 C448.0 667.1 466.1 672.6 471.5 674.3" class="r"/>
<path d="M89.1 601.2 C95.1 603.7 113.8 610.8 125.1 616.2 C136.4 621.6 146.4 627.4 157.0 633.4 C167.6 639.5 181.5 648.1 188.9 652.5 C196.3 656.9 196.5 657.1 201.2 659.5 C205.9 661.9 211.9 663.7 217.2 666.8 C222.5 669.9 228.5 673.9 233.1 678.0 C237.7 682.1 240.8 685.8 244.7 691.2 C248.6 696.7 252.7 704.2 256.7 710.7 C260.7 717.2 265.1 724.6 268.7 730.2 C272.3 735.8 274.2 738.8 278.2 744.2 C282.2 749.6 287.6 755.5 292.7 762.7 C297.8 770.0 304.1 780.1 308.7 787.7 C313.3 795.3 317.2 800.3 320.2 808.2 C323.2 816.1 325.8 830.7 326.9 835.2" class="h"/><path d="M89.1 601.2 C95.1 603.7 113.8 610.8 125.1 616.2 C136.4 621.6 146.4 627.4 157.0 633.4 C167.6 639.5 181.5 648.1 188.9 652.5 C196.3 656.9 196.5 657.1 201.2 659.5 C205.9 661.9 211.9 663.7 217.2 666.8 C222.5 669.9 228.5 673.9 233.1 678.0 C237.7 682.1 240.8 685.8 244.7 691.2 C248.6 696.7 252.7 704.2 256.7 710.7 C260.7 717.2 265.1 724.6 268.7 730.2 C272.3 735.8 274.2 738.8 278.2 744.2 C282.2 749.6 287.6 755.5 292.7 762.7 C297.8 770.0 304.1 780.1 308.7 787.7 C313.3 795.3 317.2 800.3 320.2 808.2 C323.2 816.1 325.8 830.7 326.9 835.2" class="r"/>
<path d="M460.3 698.2 C456.4 695.8 444.3 687.4 437.2 683.9 C430.1 680.5 424.4 678.4 417.7 677.5 C410.9 676.6 404.2 677.6 396.7 678.3 C389.2 679.0 380.9 680.4 372.7 681.9 C364.4 683.4 354.4 687.3 347.2 687.5 C340.0 687.7 336.7 684.5 329.7 683.2 C322.7 681.9 312.8 680.6 305.0 679.7 C297.2 678.8 286.4 678.2 282.7 677.9" class="h"/><path d="M460.3 698.2 C456.4 695.8 444.3 687.4 437.2 683.9 C430.1 680.5 424.4 678.4 417.7 677.5 C410.9 676.6 404.2 677.6 396.7 678.3 C389.2 679.0 380.9 680.4 372.7 681.9 C364.4 683.4 354.4 687.3 347.2 687.5 C340.0 687.7 336.7 684.5 329.7 683.2 C322.7 681.9 312.8 680.6 305.0 679.7 C297.2 678.8 286.4 678.2 282.7 677.9" class="r"/>
<path d="M282.7 677.9 C283.3 679.3 284.7 683.0 286.2 686.2 C287.7 689.4 289.8 693.4 291.7 697.2 C293.6 701.0 295.6 705.5 297.7 709.2 C299.8 712.9 301.6 715.8 304.2 719.2 C306.8 722.6 309.9 725.9 313.2 729.7 C316.5 733.5 319.7 736.3 324.2 742.2 C328.7 748.1 335.2 758.0 340.0 765.2 C344.8 772.5 349.7 779.4 353.2 785.7 C356.7 792.0 358.5 798.7 360.8 803.2 C363.1 807.8 366.0 811.4 367.1 813.0" class="h"/><path d="M282.7 677.9 C283.3 679.3 284.7 683.0 286.2 686.2 C287.7 689.4 289.8 693.4 291.7 697.2 C293.6 701.0 295.6 705.5 297.7 709.2 C299.8 712.9 301.6 715.8 304.2 719.2 C306.8 722.6 309.9 725.9 313.2 729.7 C316.5 733.5 319.7 736.3 324.2 742.2 C328.7 748.1 335.2 758.0 340.0 765.2 C344.8 772.5 349.7 779.4 353.2 785.7 C356.7 792.0 358.5 798.7 360.8 803.2 C363.1 807.8 366.0 811.4 367.1 813.0" class="r"/>
<path d="M178.7 705.7 L212.1 683.3" stroke="#ecb51b" stroke-width="5" fill="none" stroke-linecap="butt"/><path d="M217.9 679.4 L215.2 687.9 L209.0 678.7 Z" fill="#ecb51b"/>
<g clip-path="url(#vc3)"><path d="M719.0 628.3 L682.0 656.5 L762.7 762.5 L790.0 743.3 Z" fill="#fff"/><path d="M719.0 628.3 L682.0 656.5 L762.7 762.5 L790.0 743.3 Z" fill="url(#mesh)"/><path d="M719.0 628.3 L682.0 656.5 L762.7 762.5 L790.0 743.3 Z" class="so"/></g>
<path d="M700.8 659.7 L753.8 719.7" fill="none" stroke="rgba(130,130,130,0.30)" stroke-width="29.0" stroke-linecap="round" stroke-linejoin="round"/><path d="M700.8 659.7 L753.8 719.7" fill="none" stroke="#71906a" stroke-width="31.0" stroke-linecap="round" stroke-linejoin="round" mask="url(#bm0)"/>
<path d="M718.2 643.2 C722.7 646.5 731.5 659.0 745.2 663.2 C758.9 667.4 791.3 667.4 800.5 668.2" fill="none" stroke="rgba(130,130,130,0.30)" stroke-width="22.0" stroke-linecap="round" stroke-linejoin="round"/><path d="M718.2 643.2 C722.7 646.5 731.5 659.0 745.2 663.2 C758.9 667.4 791.3 667.4 800.5 668.2" fill="none" stroke="#71906a" stroke-width="24.0" stroke-linecap="round" stroke-linejoin="round" mask="url(#bm1)"/>
<path d="M536.6 540.4 C540.9 543.1 552.5 550.3 562.1 556.3 C571.7 562.3 583.5 569.6 594.1 576.3 C604.8 583.0 615.4 589.6 626.0 596.3 C636.6 602.9 648.7 610.6 657.9 616.2 C667.1 621.9 675.0 626.2 681.2 630.2 C687.4 634.2 690.9 637.3 695.2 640.2 C699.5 643.1 702.6 645.0 707.2 647.5 C711.8 650.0 718.3 652.9 722.9 655.1 C727.5 657.3 729.1 658.8 735.0 660.6 C740.9 662.4 750.2 664.4 758.0 665.8 C765.8 667.2 775.8 668.2 782.0 669.0 C788.2 669.8 787.2 669.9 795.2 670.3 C803.2 670.7 814.6 671.1 829.9 671.2 C845.2 671.3 877.5 670.9 887.0 670.8" class="h"/><path d="M536.6 540.4 C540.9 543.1 552.5 550.3 562.1 556.3 C571.7 562.3 583.5 569.6 594.1 576.3 C604.8 583.0 615.4 589.6 626.0 596.3 C636.6 602.9 648.7 610.6 657.9 616.2 C667.1 621.9 675.0 626.2 681.2 630.2 C687.4 634.2 690.9 637.3 695.2 640.2 C699.5 643.1 702.6 645.0 707.2 647.5 C711.8 650.0 718.3 652.9 722.9 655.1 C727.5 657.3 729.1 658.8 735.0 660.6 C740.9 662.4 750.2 664.4 758.0 665.8 C765.8 667.2 775.8 668.2 782.0 669.0 C788.2 669.8 787.2 669.9 795.2 670.3 C803.2 670.7 814.6 671.1 829.9 671.2 C845.2 671.3 877.5 670.9 887.0 670.8" class="k"/>
<path d="M542.2 573.9 C548.2 577.0 566.8 586.6 578.1 592.3 C589.4 598.0 599.4 602.9 610.0 608.2 C620.6 613.5 631.1 619.1 642.0 624.2 C652.9 629.4 666.9 635.3 675.1 639.1 C683.3 642.9 687.0 644.4 691.2 647.2 C695.4 650.0 693.4 647.7 700.2 655.7 C707.0 663.7 721.3 682.0 732.2 695.2 C743.1 708.4 756.7 724.0 765.5 735.0 C774.3 746.0 779.1 752.8 785.0 761.5 C790.9 770.2 795.7 778.3 801.0 787.1 C806.3 795.9 811.7 804.9 817.0 814.2 C822.3 823.5 827.9 833.6 832.9 842.9 C837.9 852.2 844.9 865.6 847.3 870.1" class="h"/><path d="M542.2 573.9 C548.2 577.0 566.8 586.6 578.1 592.3 C589.4 598.0 599.4 602.9 610.0 608.2 C620.6 613.5 631.1 619.1 642.0 624.2 C652.9 629.4 666.9 635.3 675.1 639.1 C683.3 642.9 687.0 644.4 691.2 647.2 C695.4 650.0 693.4 647.7 700.2 655.7 C707.0 663.7 721.3 682.0 732.2 695.2 C743.1 708.4 756.7 724.0 765.5 735.0 C774.3 746.0 779.1 752.8 785.0 761.5 C790.9 770.2 795.7 778.3 801.0 787.1 C806.3 795.9 811.7 804.9 817.0 814.2 C822.3 823.5 827.9 833.6 832.9 842.9 C837.9 852.2 844.9 865.6 847.3 870.1" class="k"/>
<path d="M604.5 557.2 C608.1 558.5 618.4 562.0 626.0 565.2 C633.6 568.4 643.4 572.6 650.0 576.2 C656.6 579.8 660.6 583.5 665.9 586.8 C671.2 590.1 675.3 593.4 681.9 596.0 C688.5 598.6 699.5 600.3 705.3 602.7 C711.1 605.1 713.6 607.1 716.5 610.2 C719.4 613.3 720.5 617.6 722.9 621.4 C725.3 625.2 728.0 629.5 730.9 633.2 C733.8 636.9 736.8 640.6 740.5 643.4 C744.2 646.2 747.6 648.3 753.2 650.0 C758.8 651.7 766.5 652.9 774.0 653.8 C781.5 654.7 790.3 655.1 798.2 655.6 C806.1 656.1 813.5 656.9 821.2 656.8 C828.9 656.7 836.6 655.6 844.2 655.1 C851.9 654.6 859.8 653.4 867.1 653.8 C874.4 654.1 880.9 655.5 887.8 657.2 C894.6 658.9 899.4 661.4 908.2 664.2 C917.0 667.1 935.1 672.6 940.5 674.3" class="h"/><path d="M604.5 557.2 C608.1 558.5 618.4 562.0 626.0 565.2 C633.6 568.4 643.4 572.6 650.0 576.2 C656.6 579.8 660.6 583.5 665.9 586.8 C671.2 590.1 675.3 593.4 681.9 596.0 C688.5 598.6 699.5 600.3 705.3 602.7 C711.1 605.1 713.6 607.1 716.5 610.2 C719.4 613.3 720.5 617.6 722.9 621.4 C725.3 625.2 728.0 629.5 730.9 633.2 C733.8 636.9 736.8 640.6 740.5 643.4 C744.2 646.2 747.6 648.3 753.2 650.0 C758.8 651.7 766.5 652.9 774.0 653.8 C781.5 654.7 790.3 655.1 798.2 655.6 C806.1 656.1 813.5 656.9 821.2 656.8 C828.9 656.7 836.6 655.6 844.2 655.1 C851.9 654.6 859.8 653.4 867.1 653.8 C874.4 654.1 880.9 655.5 887.8 657.2 C894.6 658.9 899.4 661.4 908.2 664.2 C917.0 667.1 935.1 672.6 940.5 674.3" class="r"/>
<path d="M558.1 601.2 C564.1 603.7 582.8 610.8 594.1 616.2 C605.4 621.6 615.4 627.4 626.0 633.4 C636.6 639.5 650.5 648.1 657.9 652.5 C665.3 656.9 665.5 657.1 670.2 659.5 C674.9 661.9 680.9 663.7 686.2 666.8 C691.5 669.9 697.5 673.9 702.1 678.0 C706.7 682.1 709.8 685.8 713.7 691.2 C717.6 696.7 721.7 704.2 725.7 710.7 C729.7 717.2 734.1 724.6 737.7 730.2 C741.3 735.8 743.2 738.8 747.2 744.2 C751.2 749.6 756.6 755.5 761.7 762.7 C766.8 770.0 773.1 780.1 777.7 787.7 C782.3 795.3 786.2 800.3 789.2 808.2 C792.2 816.1 794.8 830.7 795.9 835.2" class="h"/><path d="M558.1 601.2 C564.1 603.7 582.8 610.8 594.1 616.2 C605.4 621.6 615.4 627.4 626.0 633.4 C636.6 639.5 650.5 648.1 657.9 652.5 C665.3 656.9 665.5 657.1 670.2 659.5 C674.9 661.9 680.9 663.7 686.2 666.8 C691.5 669.9 697.5 673.9 702.1 678.0 C706.7 682.1 709.8 685.8 713.7 691.2 C717.6 696.7 721.7 704.2 725.7 710.7 C729.7 717.2 734.1 724.6 737.7 730.2 C741.3 735.8 743.2 738.8 747.2 744.2 C751.2 749.6 756.6 755.5 761.7 762.7 C766.8 770.0 773.1 780.1 777.7 787.7 C782.3 795.3 786.2 800.3 789.2 808.2 C792.2 816.1 794.8 830.7 795.9 835.2" class="r"/>
<path d="M929.3 698.2 C925.4 695.8 913.3 687.4 906.2 683.9 C899.1 680.5 893.5 678.4 886.7 677.5 C880.0 676.6 873.2 677.6 865.7 678.3 C858.2 679.0 850.0 680.4 841.7 681.9 C833.5 683.4 823.4 687.3 816.2 687.5 C809.0 687.7 805.7 684.5 798.7 683.2 C791.7 681.9 781.8 680.6 774.0 679.7 C766.2 678.8 755.4 678.2 751.7 677.9" class="h"/><path d="M929.3 698.2 C925.4 695.8 913.3 687.4 906.2 683.9 C899.1 680.5 893.5 678.4 886.7 677.5 C880.0 676.6 873.2 677.6 865.7 678.3 C858.2 679.0 850.0 680.4 841.7 681.9 C833.5 683.4 823.4 687.3 816.2 687.5 C809.0 687.7 805.7 684.5 798.7 683.2 C791.7 681.9 781.8 680.6 774.0 679.7 C766.2 678.8 755.4 678.2 751.7 677.9" class="r"/>
<path d="M751.7 677.9 C752.3 679.3 753.7 683.0 755.2 686.2 C756.7 689.4 758.8 693.4 760.7 697.2 C762.6 701.0 764.6 705.5 766.7 709.2 C768.8 712.9 770.6 715.8 773.2 719.2 C775.8 722.6 778.9 725.9 782.2 729.7 C785.5 733.5 788.7 736.3 793.2 742.2 C797.7 748.1 804.2 758.0 809.0 765.2 C813.8 772.5 818.7 779.4 822.2 785.7 C825.7 792.0 827.5 798.7 829.8 803.2 C832.1 807.8 835.0 811.4 836.1 813.0" class="h"/><path d="M751.7 677.9 C752.3 679.3 753.7 683.0 755.2 686.2 C756.7 689.4 758.8 693.4 760.7 697.2 C762.6 701.0 764.6 705.5 766.7 709.2 C768.8 712.9 770.6 715.8 773.2 719.2 C775.8 722.6 778.9 725.9 782.2 729.7 C785.5 733.5 788.7 736.3 793.2 742.2 C797.7 748.1 804.2 758.0 809.0 765.2 C813.8 772.5 818.7 779.4 822.2 785.7 C825.7 792.0 827.5 798.7 829.8 803.2 C832.1 807.8 835.0 811.4 836.1 813.0" class="r"/>
<ellipse cx="602.9" cy="687.7" rx="35.2" ry="42.3" fill="none" stroke="#b3141d" stroke-width="3"/>
<path d="M578.5 691 L575 686 C573 660 585 649 603 649 C621 649 633 660 631 686 L627.5 691 L631 700 C632 720 620 727 603 727 C586 727 574 720 575 700 Z" fill="none" stroke="#8f9494" stroke-width="1.6"/>
<path d="M686.7 683.7 L686.7 786.2 M647 696.4 L686.7 739.8" stroke="#ecb51b" stroke-width="3.2" fill="none" stroke-linecap="round"/>
<g clip-path="url(#vc4)"><path d="M277.7 1189.1 L232.2 1223.5 L318.3 1327.1 L347.0 1307.9 Z" fill="#fff"/><path d="M277.7 1189.1 L232.2 1223.5 L318.3 1327.1 L347.0 1307.9 Z" fill="url(#mesh)"/><path d="M277.7 1189.1 L232.2 1223.5 L318.3 1327.1 L347.0 1307.9 Z" class="so"/></g>
<path d="M255.6 1224.5 L308.6 1284.5" fill="none" stroke="rgba(130,130,130,0.30)" stroke-width="29.0" stroke-linecap="round" stroke-linejoin="round"/><path d="M255.6 1224.5 L308.6 1284.5" fill="none" stroke="#71906a" stroke-width="31.0" stroke-linecap="round" stroke-linejoin="round" mask="url(#bm2)"/>
<path d="M273.0 1208.0 C277.5 1211.3 286.3 1223.8 300.0 1228.0 C313.7 1232.2 346.1 1232.2 355.3 1233.0" fill="none" stroke="rgba(130,130,130,0.30)" stroke-width="22.0" stroke-linecap="round" stroke-linejoin="round"/><path d="M273.0 1208.0 C277.5 1211.3 286.3 1223.8 300.0 1228.0 C313.7 1232.2 346.1 1232.2 355.3 1233.0" fill="none" stroke="#71906a" stroke-width="24.0" stroke-linecap="round" stroke-linejoin="round" mask="url(#bm3)"/>
<path d="M91.4 1105.2 C95.7 1107.8 107.3 1115.1 116.9 1121.1 C126.5 1127.1 138.2 1134.4 148.9 1141.1 C159.6 1147.8 170.2 1154.4 180.8 1161.1 C191.4 1167.8 203.5 1175.3 212.7 1181.0 C221.9 1186.7 229.8 1191.0 236.0 1195.0 C242.2 1199.0 245.7 1202.1 250.0 1205.0 C254.3 1207.9 257.4 1209.8 262.0 1212.3 C266.6 1214.8 273.1 1217.7 277.7 1219.9 C282.3 1222.1 283.9 1223.6 289.8 1225.4 C295.7 1227.2 305.0 1229.2 312.8 1230.6 C320.6 1232.0 330.6 1233.0 336.8 1233.8 C343.0 1234.5 342.0 1234.7 350.0 1235.1 C358.0 1235.5 369.4 1235.9 384.7 1236.0 C400.0 1236.1 432.3 1235.7 441.8 1235.6" class="h"/><path d="M91.4 1105.2 C95.7 1107.8 107.3 1115.1 116.9 1121.1 C126.5 1127.1 138.2 1134.4 148.9 1141.1 C159.6 1147.8 170.2 1154.4 180.8 1161.1 C191.4 1167.8 203.5 1175.3 212.7 1181.0 C221.9 1186.7 229.8 1191.0 236.0 1195.0 C242.2 1199.0 245.7 1202.1 250.0 1205.0 C254.3 1207.9 257.4 1209.8 262.0 1212.3 C266.6 1214.8 273.1 1217.7 277.7 1219.9 C282.3 1222.1 283.9 1223.6 289.8 1225.4 C295.7 1227.2 305.0 1229.2 312.8 1230.6 C320.6 1232.0 330.6 1233.0 336.8 1233.8 C343.0 1234.5 342.0 1234.7 350.0 1235.1 C358.0 1235.5 369.4 1235.9 384.7 1236.0 C400.0 1236.1 432.3 1235.7 441.8 1235.6" class="k"/>
<path d="M97.0 1138.7 C103.0 1141.8 121.6 1151.4 132.9 1157.1 C144.2 1162.8 154.2 1167.7 164.8 1173.0 C175.5 1178.3 186.0 1183.8 196.8 1189.0 C207.7 1194.2 221.7 1200.1 229.9 1203.9 C238.1 1207.7 241.8 1209.2 246.0 1212.0 C250.2 1214.8 248.2 1212.5 255.0 1220.5 C261.8 1228.5 276.1 1246.8 287.0 1260.0 C297.9 1273.2 311.5 1288.8 320.3 1299.8 C329.1 1310.8 333.9 1317.6 339.8 1326.3 C345.7 1335.0 350.5 1343.1 355.8 1351.9 C361.1 1360.7 366.5 1369.7 371.8 1379.0 C377.1 1388.3 382.6 1398.4 387.7 1407.7 C392.8 1417.0 399.7 1430.4 402.1 1434.9" class="h"/><path d="M97.0 1138.7 C103.0 1141.8 121.6 1151.4 132.9 1157.1 C144.2 1162.8 154.2 1167.7 164.8 1173.0 C175.5 1178.3 186.0 1183.8 196.8 1189.0 C207.7 1194.2 221.7 1200.1 229.9 1203.9 C238.1 1207.7 241.8 1209.2 246.0 1212.0 C250.2 1214.8 248.2 1212.5 255.0 1220.5 C261.8 1228.5 276.1 1246.8 287.0 1260.0 C297.9 1273.2 311.5 1288.8 320.3 1299.8 C329.1 1310.8 333.9 1317.6 339.8 1326.3 C345.7 1335.0 350.5 1343.1 355.8 1351.9 C361.1 1360.7 366.5 1369.7 371.8 1379.0 C377.1 1388.3 382.6 1398.4 387.7 1407.7 C392.8 1417.0 399.7 1430.4 402.1 1434.9" class="k"/>
<path d="M159.3 1122.0 C162.9 1123.3 173.2 1126.8 180.8 1130.0 C188.4 1133.2 198.2 1137.4 204.8 1141.0 C211.5 1144.6 215.4 1148.3 220.7 1151.6 C226.0 1154.9 230.1 1158.1 236.7 1160.8 C243.3 1163.5 254.3 1165.1 260.1 1167.5 C265.9 1169.9 268.4 1171.9 271.3 1175.0 C274.2 1178.1 275.3 1182.4 277.7 1186.2 C280.1 1190.0 282.8 1194.3 285.7 1198.0 C288.6 1201.7 291.6 1205.4 295.3 1208.2 C299.0 1211.0 302.4 1213.1 308.0 1214.8 C313.6 1216.5 321.3 1217.7 328.8 1218.6 C336.3 1219.5 345.1 1219.9 353.0 1220.4 C360.9 1220.9 368.3 1221.7 376.0 1221.6 C383.7 1221.5 391.4 1220.4 399.0 1219.9 C406.6 1219.4 414.6 1218.2 421.9 1218.6 C429.2 1218.9 435.8 1220.3 442.6 1222.0 C449.5 1223.7 454.2 1226.2 463.0 1229.0 C471.8 1231.8 489.9 1237.4 495.3 1239.1" class="h"/><path d="M159.3 1122.0 C162.9 1123.3 173.2 1126.8 180.8 1130.0 C188.4 1133.2 198.2 1137.4 204.8 1141.0 C211.5 1144.6 215.4 1148.3 220.7 1151.6 C226.0 1154.9 230.1 1158.1 236.7 1160.8 C243.3 1163.5 254.3 1165.1 260.1 1167.5 C265.9 1169.9 268.4 1171.9 271.3 1175.0 C274.2 1178.1 275.3 1182.4 277.7 1186.2 C280.1 1190.0 282.8 1194.3 285.7 1198.0 C288.6 1201.7 291.6 1205.4 295.3 1208.2 C299.0 1211.0 302.4 1213.1 308.0 1214.8 C313.6 1216.5 321.3 1217.7 328.8 1218.6 C336.3 1219.5 345.1 1219.9 353.0 1220.4 C360.9 1220.9 368.3 1221.7 376.0 1221.6 C383.7 1221.5 391.4 1220.4 399.0 1219.9 C406.6 1219.4 414.6 1218.2 421.9 1218.6 C429.2 1218.9 435.8 1220.3 442.6 1222.0 C449.5 1223.7 454.2 1226.2 463.0 1229.0 C471.8 1231.8 489.9 1237.4 495.3 1239.1" class="r"/>
<path d="M112.9 1166.0 C118.9 1168.5 137.6 1175.6 148.9 1181.0 C160.2 1186.4 170.2 1192.2 180.8 1198.2 C191.4 1204.2 205.3 1213.0 212.7 1217.3 C220.1 1221.6 220.3 1221.9 225.0 1224.3 C229.7 1226.7 235.7 1228.5 241.0 1231.6 C246.3 1234.7 252.3 1238.7 256.9 1242.8 C261.5 1246.9 264.6 1250.5 268.5 1256.0 C272.4 1261.5 276.5 1269.0 280.5 1275.5 C284.5 1282.0 288.9 1289.4 292.5 1295.0 C296.1 1300.6 298.0 1303.6 302.0 1309.0 C306.0 1314.4 311.4 1320.2 316.5 1327.5 C321.6 1334.8 327.9 1344.9 332.5 1352.5 C337.1 1360.1 341.0 1365.1 344.0 1373.0 C347.0 1380.9 349.6 1395.5 350.7 1400.0" class="h"/><path d="M112.9 1166.0 C118.9 1168.5 137.6 1175.6 148.9 1181.0 C160.2 1186.4 170.2 1192.2 180.8 1198.2 C191.4 1204.2 205.3 1213.0 212.7 1217.3 C220.1 1221.6 220.3 1221.9 225.0 1224.3 C229.7 1226.7 235.7 1228.5 241.0 1231.6 C246.3 1234.7 252.3 1238.7 256.9 1242.8 C261.5 1246.9 264.6 1250.5 268.5 1256.0 C272.4 1261.5 276.5 1269.0 280.5 1275.5 C284.5 1282.0 288.9 1289.4 292.5 1295.0 C296.1 1300.6 298.0 1303.6 302.0 1309.0 C306.0 1314.4 311.4 1320.2 316.5 1327.5 C321.6 1334.8 327.9 1344.9 332.5 1352.5 C337.1 1360.1 341.0 1365.1 344.0 1373.0 C347.0 1380.9 349.6 1395.5 350.7 1400.0" class="r"/>
<path d="M484.1 1263.0 C480.2 1260.6 468.1 1252.2 461.0 1248.7 C453.9 1245.2 448.2 1243.2 441.5 1242.3 C434.8 1241.4 428.0 1242.4 420.5 1243.1 C413.0 1243.8 404.8 1245.2 396.5 1246.7 C388.2 1248.2 378.2 1252.1 371.0 1252.3 C363.8 1252.5 360.5 1249.3 353.5 1248.0 C346.5 1246.7 336.6 1245.4 328.8 1244.5 C321.0 1243.6 310.2 1243.0 306.5 1242.7" class="h"/><path d="M484.1 1263.0 C480.2 1260.6 468.1 1252.2 461.0 1248.7 C453.9 1245.2 448.2 1243.2 441.5 1242.3 C434.8 1241.4 428.0 1242.4 420.5 1243.1 C413.0 1243.8 404.8 1245.2 396.5 1246.7 C388.2 1248.2 378.2 1252.1 371.0 1252.3 C363.8 1252.5 360.5 1249.3 353.5 1248.0 C346.5 1246.7 336.6 1245.4 328.8 1244.5 C321.0 1243.6 310.2 1243.0 306.5 1242.7" class="r"/>
<path d="M306.5 1242.7 C307.1 1244.1 308.5 1247.8 310.0 1251.0 C311.5 1254.2 313.6 1258.2 315.5 1262.0 C317.4 1265.8 319.4 1270.3 321.5 1274.0 C323.6 1277.7 325.4 1280.6 328.0 1284.0 C330.6 1287.4 333.7 1290.7 337.0 1294.5 C340.3 1298.3 343.5 1301.1 348.0 1307.0 C352.5 1312.9 359.0 1322.8 363.8 1330.0 C368.6 1337.2 373.5 1344.2 377.0 1350.5 C380.5 1356.8 382.3 1363.5 384.6 1368.0 C386.9 1372.5 389.8 1376.2 390.9 1377.8" class="h"/><path d="M306.5 1242.7 C307.1 1244.1 308.5 1247.8 310.0 1251.0 C311.5 1254.2 313.6 1258.2 315.5 1262.0 C317.4 1265.8 319.4 1270.3 321.5 1274.0 C323.6 1277.7 325.4 1280.6 328.0 1284.0 C330.6 1287.4 333.7 1290.7 337.0 1294.5 C340.3 1298.3 343.5 1301.1 348.0 1307.0 C352.5 1312.9 359.0 1322.8 363.8 1330.0 C368.6 1337.2 373.5 1344.2 377.0 1350.5 C380.5 1356.8 382.3 1363.5 384.6 1368.0 C386.9 1372.5 389.8 1376.2 390.9 1377.8" class="r"/>
<path d="M190.8 1269.8 L224.5 1247.4" stroke="#ecb51b" stroke-width="5" fill="none" stroke-linecap="butt"/><path d="M230.3 1243.5 L227.5 1252.0 L221.4 1242.8 Z" fill="#ecb51b"/>
<g clip-path="url(#vc5)"><path d="M697.7 1189.9 L652.2 1225.0 L739.1 1327.9 L767.8 1307.9 Z" fill="#fff"/><path d="M697.7 1189.9 L652.2 1225.0 L739.1 1327.9 L767.8 1307.9 Z" fill="url(#mesh)"/><path d="M697.7 1189.9 L652.2 1225.0 L739.1 1327.9 L767.8 1307.9 Z" class="so"/></g>
<ellipse cx="699.7" cy="1229.5" rx="28.4" ry="31.6" transform="rotate(-9.0 699.7 1229.5)" class="bal"/>
<path d="M511.4 1106.2 C515.6 1108.8 527.3 1116.1 536.9 1122.1 C546.5 1128.1 558.2 1135.4 568.9 1142.1 C579.5 1148.8 590.2 1155.4 600.8 1162.1 C611.4 1168.8 623.5 1176.3 632.7 1182.0 C641.9 1187.7 649.8 1192.0 656.0 1196.0 C662.2 1200.0 665.7 1203.1 670.0 1206.0 C674.3 1208.9 677.4 1210.8 682.0 1213.3 C686.6 1215.8 693.1 1218.7 697.7 1220.9 C702.3 1223.1 703.9 1224.6 709.8 1226.4 C715.6 1228.2 725.0 1230.2 732.8 1231.6 C740.6 1233.0 750.6 1234.0 756.8 1234.8 C763.0 1235.5 762.0 1235.7 770.0 1236.1 C778.0 1236.5 789.4 1236.9 804.7 1237.0 C820.0 1237.1 852.3 1236.7 861.8 1236.6" class="h"/><path d="M511.4 1106.2 C515.6 1108.8 527.3 1116.1 536.9 1122.1 C546.5 1128.1 558.2 1135.4 568.9 1142.1 C579.5 1148.8 590.2 1155.4 600.8 1162.1 C611.4 1168.8 623.5 1176.3 632.7 1182.0 C641.9 1187.7 649.8 1192.0 656.0 1196.0 C662.2 1200.0 665.7 1203.1 670.0 1206.0 C674.3 1208.9 677.4 1210.8 682.0 1213.3 C686.6 1215.8 693.1 1218.7 697.7 1220.9 C702.3 1223.1 703.9 1224.6 709.8 1226.4 C715.6 1228.2 725.0 1230.2 732.8 1231.6 C740.6 1233.0 750.6 1234.0 756.8 1234.8 C763.0 1235.5 762.0 1235.7 770.0 1236.1 C778.0 1236.5 789.4 1236.9 804.7 1237.0 C820.0 1237.1 852.3 1236.7 861.8 1236.6" class="k"/>
<path d="M517.0 1139.7 C523.0 1142.8 541.6 1152.4 552.9 1158.1 C564.2 1163.8 574.1 1168.7 584.8 1174.0 C595.4 1179.3 605.9 1184.8 616.8 1190.0 C627.6 1195.2 641.7 1201.1 649.9 1204.9 C658.1 1208.7 661.8 1210.2 666.0 1213.0 C670.2 1215.8 668.2 1213.5 675.0 1221.5 C681.8 1229.5 696.1 1247.8 707.0 1261.0 C717.9 1274.2 731.5 1289.8 740.3 1300.8 C749.1 1311.8 753.9 1318.6 759.8 1327.3 C765.7 1336.0 770.5 1344.1 775.8 1352.9 C781.1 1361.7 786.5 1370.7 791.8 1380.0 C797.1 1389.3 802.7 1399.4 807.7 1408.7 C812.8 1418.0 819.7 1431.4 822.1 1435.9" class="h"/><path d="M517.0 1139.7 C523.0 1142.8 541.6 1152.4 552.9 1158.1 C564.2 1163.8 574.1 1168.7 584.8 1174.0 C595.4 1179.3 605.9 1184.8 616.8 1190.0 C627.6 1195.2 641.7 1201.1 649.9 1204.9 C658.1 1208.7 661.8 1210.2 666.0 1213.0 C670.2 1215.8 668.2 1213.5 675.0 1221.5 C681.8 1229.5 696.1 1247.8 707.0 1261.0 C717.9 1274.2 731.5 1289.8 740.3 1300.8 C749.1 1311.8 753.9 1318.6 759.8 1327.3 C765.7 1336.0 770.5 1344.1 775.8 1352.9 C781.1 1361.7 786.5 1370.7 791.8 1380.0 C797.1 1389.3 802.7 1399.4 807.7 1408.7 C812.8 1418.0 819.7 1431.4 822.1 1435.9" class="k"/>
<path d="M579.3 1123.0 C582.9 1124.3 593.2 1127.8 600.8 1131.0 C608.4 1134.2 618.1 1138.4 624.8 1142.0 C631.4 1145.6 635.4 1149.3 640.7 1152.6 C646.0 1155.9 650.1 1159.1 656.7 1161.8 C663.3 1164.5 674.3 1166.1 680.1 1168.5 C685.9 1170.9 688.4 1172.9 691.3 1176.0 C694.2 1179.1 695.3 1183.4 697.7 1187.2 C700.1 1191.0 702.8 1195.3 705.7 1199.0 C708.6 1202.7 711.6 1206.4 715.3 1209.2 C719.0 1212.0 722.4 1214.1 728.0 1215.8 C733.6 1217.5 741.3 1218.7 748.8 1219.6 C756.3 1220.5 765.1 1220.9 773.0 1221.4 C780.9 1221.9 788.3 1222.7 796.0 1222.6 C803.7 1222.5 811.4 1221.4 819.0 1220.9 C826.6 1220.4 834.6 1219.2 841.9 1219.6 C849.2 1219.9 855.8 1221.3 862.6 1223.0 C869.5 1224.7 874.2 1227.2 883.0 1230.0 C891.8 1232.8 909.9 1238.4 915.3 1240.1" class="h"/><path d="M579.3 1123.0 C582.9 1124.3 593.2 1127.8 600.8 1131.0 C608.4 1134.2 618.1 1138.4 624.8 1142.0 C631.4 1145.6 635.4 1149.3 640.7 1152.6 C646.0 1155.9 650.1 1159.1 656.7 1161.8 C663.3 1164.5 674.3 1166.1 680.1 1168.5 C685.9 1170.9 688.4 1172.9 691.3 1176.0 C694.2 1179.1 695.3 1183.4 697.7 1187.2 C700.1 1191.0 702.8 1195.3 705.7 1199.0 C708.6 1202.7 711.6 1206.4 715.3 1209.2 C719.0 1212.0 722.4 1214.1 728.0 1215.8 C733.6 1217.5 741.3 1218.7 748.8 1219.6 C756.3 1220.5 765.1 1220.9 773.0 1221.4 C780.9 1221.9 788.3 1222.7 796.0 1222.6 C803.7 1222.5 811.4 1221.4 819.0 1220.9 C826.6 1220.4 834.6 1219.2 841.9 1219.6 C849.2 1219.9 855.8 1221.3 862.6 1223.0 C869.5 1224.7 874.2 1227.2 883.0 1230.0 C891.8 1232.8 909.9 1238.4 915.3 1240.1" class="r"/>
<path d="M532.9 1167.0 C538.9 1169.5 557.6 1176.6 568.9 1182.0 C580.2 1187.4 590.2 1193.2 600.8 1199.2 C611.4 1205.2 625.3 1214.0 632.7 1218.3 C640.1 1222.6 640.3 1222.9 645.0 1225.3 C649.7 1227.7 655.7 1229.5 661.0 1232.6 C666.3 1235.7 672.3 1239.7 676.9 1243.8 C681.5 1247.9 684.6 1251.5 688.5 1257.0 C692.4 1262.5 696.5 1270.0 700.5 1276.5 C704.5 1283.0 708.9 1290.4 712.5 1296.0 C716.1 1301.6 718.0 1304.6 722.0 1310.0 C726.0 1315.4 731.4 1321.2 736.5 1328.5 C741.6 1335.8 747.9 1345.9 752.5 1353.5 C757.1 1361.1 761.0 1366.1 764.0 1374.0 C767.0 1381.9 769.6 1396.5 770.7 1401.0" class="h"/><path d="M532.9 1167.0 C538.9 1169.5 557.6 1176.6 568.9 1182.0 C580.2 1187.4 590.2 1193.2 600.8 1199.2 C611.4 1205.2 625.3 1214.0 632.7 1218.3 C640.1 1222.6 640.3 1222.9 645.0 1225.3 C649.7 1227.7 655.7 1229.5 661.0 1232.6 C666.3 1235.7 672.3 1239.7 676.9 1243.8 C681.5 1247.9 684.6 1251.5 688.5 1257.0 C692.4 1262.5 696.5 1270.0 700.5 1276.5 C704.5 1283.0 708.9 1290.4 712.5 1296.0 C716.1 1301.6 718.0 1304.6 722.0 1310.0 C726.0 1315.4 731.4 1321.2 736.5 1328.5 C741.6 1335.8 747.9 1345.9 752.5 1353.5 C757.1 1361.1 761.0 1366.1 764.0 1374.0 C767.0 1381.9 769.6 1396.5 770.7 1401.0" class="r"/>
<path d="M904.1 1264.0 C900.2 1261.6 888.1 1253.2 881.0 1249.7 C873.9 1246.2 868.2 1244.2 861.5 1243.3 C854.8 1242.4 848.0 1243.4 840.5 1244.1 C833.0 1244.8 824.8 1246.2 816.5 1247.7 C808.2 1249.2 798.2 1253.1 791.0 1253.3 C783.8 1253.5 780.5 1250.3 773.5 1249.0 C766.5 1247.7 756.6 1246.4 748.8 1245.5 C741.0 1244.6 730.2 1244.0 726.5 1243.7" class="h"/><path d="M904.1 1264.0 C900.2 1261.6 888.1 1253.2 881.0 1249.7 C873.9 1246.2 868.2 1244.2 861.5 1243.3 C854.8 1242.4 848.0 1243.4 840.5 1244.1 C833.0 1244.8 824.8 1246.2 816.5 1247.7 C808.2 1249.2 798.2 1253.1 791.0 1253.3 C783.8 1253.5 780.5 1250.3 773.5 1249.0 C766.5 1247.7 756.6 1246.4 748.8 1245.5 C741.0 1244.6 730.2 1244.0 726.5 1243.7" class="r"/>
<path d="M726.5 1243.7 C727.1 1245.1 728.5 1248.8 730.0 1252.0 C731.5 1255.2 733.6 1259.2 735.5 1263.0 C737.4 1266.8 739.4 1271.3 741.5 1275.0 C743.6 1278.7 745.4 1281.6 748.0 1285.0 C750.6 1288.4 753.7 1291.7 757.0 1295.5 C760.3 1299.3 763.5 1302.1 768.0 1308.0 C772.5 1313.9 779.0 1323.8 783.8 1331.0 C788.6 1338.2 793.5 1345.2 797.0 1351.5 C800.5 1357.8 802.3 1364.5 804.6 1369.0 C806.9 1373.5 809.9 1377.2 810.9 1378.8" class="h"/><path d="M726.5 1243.7 C727.1 1245.1 728.5 1248.8 730.0 1252.0 C731.5 1255.2 733.6 1259.2 735.5 1263.0 C737.4 1266.8 739.4 1271.3 741.5 1275.0 C743.6 1278.7 745.4 1281.6 748.0 1285.0 C750.6 1288.4 753.7 1291.7 757.0 1295.5 C760.3 1299.3 763.5 1302.1 768.0 1308.0 C772.5 1313.9 779.0 1323.8 783.8 1331.0 C788.6 1338.2 793.5 1345.2 797.0 1351.5 C800.5 1357.8 802.3 1364.5 804.6 1369.0 C806.9 1373.5 809.9 1377.2 810.9 1378.8" class="r"/>
<path d="M611.4 1285.1 L644.8 1262.4" stroke="#ecb51b" stroke-width="5" fill="none" stroke-linecap="butt"/><path d="M650.6 1258.5 L647.9 1267.0 L641.7 1257.9 Z" fill="#ecb51b"/>
<text transform="translate(464.60 76.60) scale(0.720 1)" font-size="28.00" textLength="343.61" lengthAdjust="spacing">Main vessel stenting</text>
<text transform="translate(222.60 271.60) scale(0.720 1)" font-size="28.00" textLength="360.56" lengthAdjust="spacing">Proximal optimisation</text>
<text transform="translate(256.60 300.20) scale(0.720 1)" font-size="28.00" textLength="266.81" lengthAdjust="spacing">technique (POT)</text>
<text transform="translate(235.40 590.40) scale(0.720 1)" font-size="28.00" textLength="366.39" lengthAdjust="spacing">Side branch dilatation</text>
<text transform="translate(333.00 619.20) scale(0.720 1)" font-size="28.00" textLength="95.83" lengthAdjust="spacing">(SBD)</text>
<text transform="translate(686.20 581.20) scale(0.720 1)" font-size="28.00" textLength="401.81" lengthAdjust="spacing">Kissing balloon inflation</text>
<text transform="translate(734.20 609.60) scale(0.720 1)" font-size="28.00" textLength="266.39" lengthAdjust="spacing">technique (KBT)</text>
<text transform="translate(54.60 737.40) scale(0.720 1)" font-size="28.00" textLength="233.47" lengthAdjust="spacing">Malapposition</text>
<text transform="translate(68.30 766.20) scale(0.720 1)" font-size="28.00" textLength="195.42" lengthAdjust="spacing">opposite SB</text>
<text transform="translate(93.70 795.30) scale(0.720 1)" font-size="28.00" textLength="126.39" lengthAdjust="spacing">take-off</text>
<text transform="translate(434.00 762.40) scale(0.720 1)" font-size="28.00" textLength="314.17" lengthAdjust="spacing">Cross-section view</text>
<text transform="translate(592.50 819.60) scale(0.720 1)" font-size="28.00" textLength="235.00" lengthAdjust="spacing">Malapposition</text>
<text transform="translate(599.80 848.00) scale(0.720 1)" font-size="28.00" textLength="217.50" lengthAdjust="spacing">proximal part</text>
<text transform="translate(245.10 967.40) scale(0.720 1)" font-size="28.00" textLength="230.42" lengthAdjust="spacing">40% of cases</text>
<text transform="translate(744.50 967.40) scale(0.720 1)" font-size="28.00" textLength="208.33" lengthAdjust="spacing">7% of cases</text>
<text transform="translate(292.80 1175.50) scale(0.720 1)" font-size="28.00" textLength="63.19" lengthAdjust="spacing">KBT</text>
<text transform="translate(469.60 1178.80) scale(0.720 1)" font-size="28.00" textLength="44.17" lengthAdjust="spacing">OR</text>
<text transform="translate(707.50 1168.90) scale(0.720 1)" font-size="28.00" textLength="61.94" lengthAdjust="spacing">POT</text>
<text transform="translate(84.20 1298.60) scale(0.720 1)" font-size="28.00" textLength="233.89" lengthAdjust="spacing">Malapposition</text>
<text transform="translate(66.10 1327.00) scale(0.720 1)" font-size="28.00" textLength="283.61" lengthAdjust="spacing">corrected by KBT</text>
<text transform="translate(520.00 1317.40) scale(0.720 1)" font-size="28.00" textLength="235.42" lengthAdjust="spacing">Malapposition</text>
<text transform="translate(502.40 1346.20) scale(0.720 1)" font-size="28.00" textLength="282.92" lengthAdjust="spacing">corrected by POT</text>
<text transform="translate(19.30 54.00) scale(0.700 1)" font-size="54.00" textLength="15.29" lengthAdjust="spacing">A</text>
<text transform="translate(61.30 1086.00) scale(0.660 1)" font-size="54.00" textLength="-19.77" lengthAdjust="spacing">B</text>
</svg>
</body></html>
